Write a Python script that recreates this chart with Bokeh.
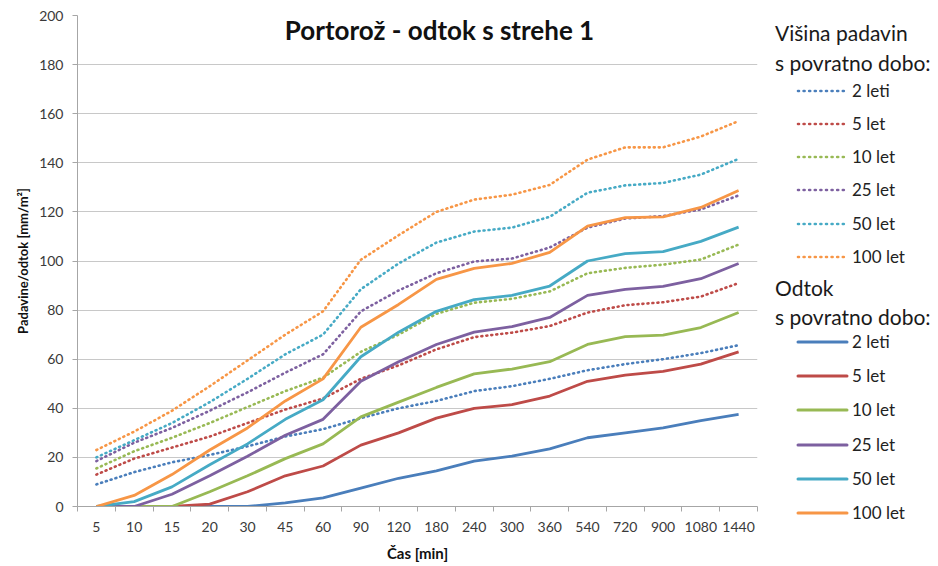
from bokeh.plotting import figure
from bokeh.layouts import row
from bokeh.models import FixedTicker, Label, Div
from bokeh.embed import file_html
from bokeh.resources import INLINE

categories = ["5", "10", "15", "20", "30", "45", "60", "90", "120", "180", "240",
              "300", "360", "540", "720", "900", "1080", "1440"]
periods = ["2 leti", "5 let", "10 let", "25 let", "50 let", "100 let"]
colors = ["#4A7EBB", "#BE4B48", "#98B954", "#7D60A0", "#46AAC5", "#F79646"]

# Višina padavin (dotted)
pad_2 = [9, 14, 18, 21, 24.5, 28.5, 31.5, 36, 40, 43, 47, 49, 52, 55.5, 58, 60, 62.5, 65.7]
pad_5 = [13, 19.5, 24, 28.5, 34, 39.5, 44, 52, 57.5, 64, 69, 70.8, 73.5, 79, 82, 83.2, 85.5, 91]
pad_10 = [15.5, 22.5, 28, 34, 40.5, 47, 52.5, 63, 70, 78.5, 83, 84.6, 87.6, 95, 97.2, 98.5, 100.6, 106.7]
pad_25 = [18.5, 26, 32, 39, 46.5, 54.5, 62, 79.5, 88, 95, 99.8, 101, 105.5, 113.6, 117.3, 118.3, 121, 126.7]
pad_50 = [20, 27, 34, 42.5, 52, 62, 70, 88.5, 99, 107.5, 112, 113.6, 118, 127.8, 130.8, 131.8, 135.2, 141.6]
pad_100 = [23, 30.5, 39, 49, 59.5, 70, 79.5, 100.5, 110.5, 120, 125, 127, 131, 141.3, 146.3, 146.3, 150.7, 157]

# Odtok (solid)
odt_2 = [0, 0, 0, 0, 0, 1.5, 3.5, 7.5, 11.5, 14.5, 18.5, 20.5, 23.5, 28, 30, 32, 35, 37.5]
odt_5 = [0, 0, 0, 1, 6, 12.5, 16.5, 25, 30, 36, 40, 41.5, 45, 51, 53.5, 55, 58, 63]
odt_10 = [0, 0, 0, 6, 12.5, 19.5, 25.5, 36.5, 42.5, 48.5, 54, 56, 59, 66, 69.2, 69.8, 72.9, 79]
odt_25 = [0, 0, 5, 12.5, 20.5, 29, 35.5, 51, 59, 66, 71, 73.3, 77, 86, 88.4, 89.7, 92.8, 99]
odt_50 = [0, 2, 8, 17, 25.5, 35.5, 43.5, 61, 71, 79.5, 84.3, 86, 89.8, 100, 103, 103.8, 108, 113.8]
odt_100 = [0, 4.5, 13, 23, 32, 43, 52, 73, 82.3, 92.5, 97, 99, 103.5, 114.2, 117.7, 118, 121.8, 128.7]

pad_series = [pad_2, pad_5, pad_10, pad_25, pad_50, pad_100]
odt_series = [odt_2, odt_5, odt_10, odt_25, odt_50, odt_100]

FONT = "Lato"
xs = list(range(1, len(categories) + 1))

H = 564
p = figure(width=765, height=H, output_backend="svg", toolbar_location=None,
           x_range=(0.5, len(categories) + 0.5), y_range=(0, 200),
           min_border_left=77, min_border_right=8, min_border_top=15, min_border_bottom=55)
p.outline_line_color = None

p.yaxis.ticker = FixedTicker(ticks=list(range(0, 201, 20)))
p.xaxis.ticker = FixedTicker(ticks=xs, minor_ticks=[i + 0.5 for i in range(0, len(categories) + 1)])
p.xaxis.major_label_overrides = {i: c for i, c in zip(xs, categories)}
p.xaxis.major_tick_out = 0
p.xaxis.major_tick_in = 0
p.xaxis.minor_tick_out = 5
p.xaxis.minor_tick_in = 0
p.yaxis.major_tick_out = 5
p.yaxis.major_tick_in = 0
p.yaxis.minor_tick_out = 0
p.yaxis.minor_tick_in = 0
for ax in (p.xaxis, p.yaxis):
    ax.axis_line_color = "#a6a6a6"
    ax.major_tick_line_color = "#a6a6a6"
    ax.minor_tick_line_color = "#a6a6a6"
    ax.major_label_text_font = FONT
    ax.major_label_text_font_size = "14px"
    ax.major_label_text_color = "#3a3a3a"
    ax.axis_label_text_font = FONT
    ax.axis_label_text_font_style = "bold"
    ax.axis_label_text_color = "#111111"
p.xaxis.axis_label = "Čas [min]"
p.xaxis.axis_label_text_font_size = "15px"
p.xaxis.axis_label_standoff = 9
p.xaxis.major_label_standoff = 10
p.yaxis.axis_label = "Padavine/odtok [mm/m²]"
p.yaxis.axis_label_text_font_size = "13px"
p.yaxis.axis_label_standoff = 5
p.yaxis.major_label_standoff = 9

p.xgrid.grid_line_color = None
p.ygrid.grid_line_color = "#c8c8c8"
p.ygrid.grid_line_width = 1.2

for ser, col in zip(pad_series, colors):
    p.line(xs, ser, line_color=col, line_width=2.6, line_dash="1 4", line_cap="round")
for ser, col in zip(odt_series, colors):
    p.line(xs, ser, line_color=col, line_width=2.8, line_join="round")

p.add_layout(Label(x=362, y=477, x_units="screen", y_units="screen",
                   text="Portorož - odtok s strehe 1", text_font=FONT, text_font_size="26px",
                   text_font_style="bold", text_color="#111111",
                   text_align="center", text_baseline="middle"))

# Legend panel (HTML, to the right of the plot)
def header(text, y):
    return (f'<div style="position:absolute;left:10px;top:{y - 13}px;line-height:26px;'
            f'font-size:21px;color:#1a1a1a;white-space:nowrap;">{text}</div>')

def item(label, color, y, dotted):
    dash = 'stroke-dasharray="1 4.6" stroke-linecap="round"' if dotted else 'stroke-linecap="round"'
    w = 2.6 if dotted else 3
    svg = (f'<svg style="position:absolute;left:31px;top:{y - 10}px" width="54" height="20">'
           f'<line x1="2" y1="10" x2="51" y2="10" stroke="{color}" stroke-width="{w}" {dash}/></svg>')
    txt = (f'<div style="position:absolute;left:87px;top:{y - 11}px;line-height:22px;'
           f'font-size:17px;color:#222;white-space:nowrap;">{label}</div>')
    return svg + txt

pad_key_y = [91, 124, 157, 190, 224, 257]
odt_key_y = [342, 376, 410, 445, 479, 513]
parts = [header("Višina padavin", 33), header("s povratno dobo:", 63)]
for lab, col, y in zip(periods, colors, pad_key_y):
    parts.append(item(lab, col, y, True))
parts += [header("Odtok", 288), header("s povratno dobo:", 317)]
for lab, col, y in zip(periods, colors, odt_key_y):
    parts.append(item(lab, col, y, False))

html = (f'<div style="position:relative;width:171px;height:{H}px;font-family:Lato,sans-serif;">'
        + "".join(parts) + '</div>')
legend_div = Div(text=html, width=171, height=H, margin=0)

layout = row(p, legend_div, spacing=0)
open("out.html", "w").write(file_html(layout, INLINE))
